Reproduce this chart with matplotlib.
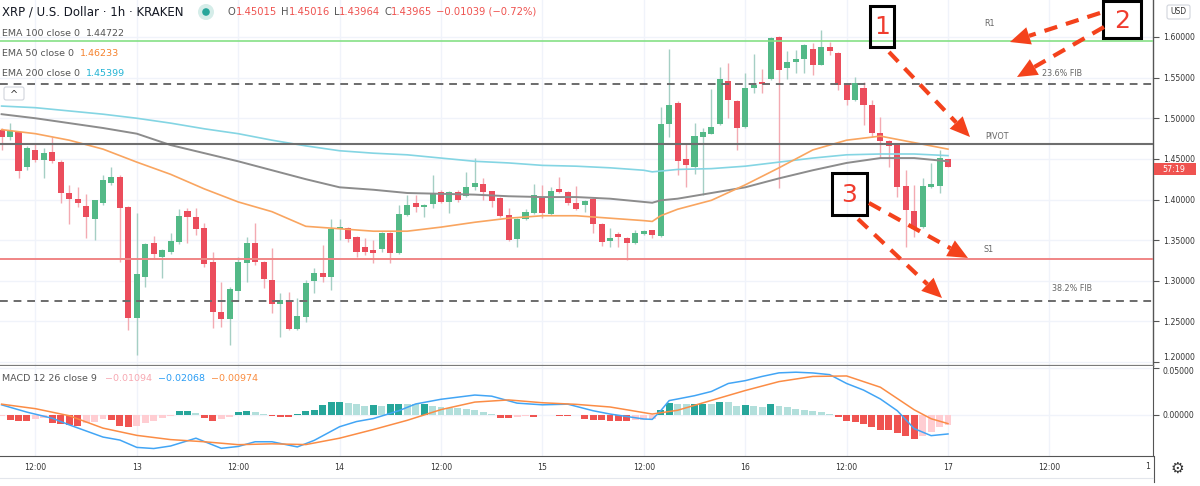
import numpy as np
import matplotlib.pyplot as plt
from matplotlib.patches import Rectangle, Polygon, FancyBboxPatch, Circle

# XRP/USD hourly candles (Kraken), from 12th 08:00 up to 17th 00:00
opens = [1.486, 1.477, 1.483, 1.440, 1.461, 1.448, 1.459, 1.446, 1.408, 1.401,
         1.392, 1.376, 1.396, 1.420, 1.428, 1.391, 1.254, 1.305, 1.346, 1.329,
         1.335, 1.348, 1.386, 1.378, 1.365, 1.323, 1.262, 1.253, 1.287, 1.322,
         1.346, 1.323, 1.301, 1.271, 1.275, 1.241, 1.255, 1.300, 1.310, 1.305,
         1.364, 1.365, 1.354, 1.342, 1.338, 1.339, 1.359, 1.334, 1.381, 1.396,
         1.391, 1.394, 1.409, 1.397, 1.409, 1.404, 1.415, 1.419, 1.410, 1.402,
         1.381, 1.351, 1.376, 1.383, 1.402, 1.382, 1.413, 1.409, 1.396, 1.393,
         1.401, 1.370, 1.349, 1.357, 1.353, 1.346, 1.357, 1.362, 1.355, 1.493,
         1.519, 1.450, 1.440, 1.477, 1.481, 1.493, 1.546, 1.521, 1.489, 1.537,
         1.545, 1.548, 1.600, 1.562, 1.569, 1.573, 1.585, 1.566, 1.588, 1.580,
         1.542, 1.522, 1.537, 1.516, 1.482, 1.472, 1.468, 1.417, 1.386, 1.366,
         1.415, 1.417, 1.45015]
highs = [1.488, 1.494, 1.484, 1.466, 1.470, 1.463, 1.477, 1.448, 1.418, 1.415,
         1.407, 1.400, 1.430, 1.440, 1.430, 1.392, 1.383, 1.347, 1.355, 1.339,
         1.359, 1.388, 1.390, 1.390, 1.371, 1.335, 1.298, 1.292, 1.329, 1.354,
         1.371, 1.324, 1.340, 1.285, 1.286, 1.279, 1.301, 1.316, 1.344, 1.376,
         1.376, 1.366, 1.355, 1.353, 1.350, 1.360, 1.360, 1.393, 1.406, 1.406,
         1.394, 1.430, 1.412, 1.410, 1.412, 1.434, 1.451, 1.426, 1.411, 1.403,
         1.390, 1.377, 1.388, 1.419, 1.418, 1.415, 1.428, 1.410, 1.417, 1.399,
         1.402, 1.371, 1.365, 1.360, 1.354, 1.362, 1.362, 1.363, 1.514, 1.585,
         1.521, 1.470, 1.494, 1.488, 1.536, 1.563, 1.568, 1.522, 1.556, 1.579,
         1.561, 1.600, 1.601, 1.583, 1.584, 1.591, 1.593, 1.609, 1.594, 1.581,
         1.543, 1.551, 1.545, 1.522, 1.502, 1.473, 1.469, 1.436, 1.418, 1.426,
         1.445, 1.461, 1.45016]
lows = [1.461, 1.473, 1.426, 1.436, 1.446, 1.426, 1.445, 1.396, 1.370, 1.391,
        1.353, 1.350, 1.393, 1.418, 1.323, 1.239, 1.209, 1.292, 1.327, 1.303,
        1.333, 1.345, 1.346, 1.356, 1.317, 1.242, 1.243, 1.221, 1.276, 1.298,
        1.319, 1.291, 1.260, 1.231, 1.239, 1.239, 1.249, 1.285, 1.298, 1.289,
        1.350, 1.348, 1.329, 1.332, 1.322, 1.335, 1.322, 1.333, 1.380, 1.385,
        1.378, 1.390, 1.396, 1.383, 1.397, 1.403, 1.412, 1.399, 1.391, 1.378,
        1.349, 1.342, 1.375, 1.382, 1.377, 1.381, 1.408, 1.393, 1.387, 1.385,
        1.359, 1.343, 1.342, 1.342, 1.326, 1.345, 1.356, 1.353, 1.354, 1.477,
        1.430, 1.415, 1.431, 1.406, 1.480, 1.492, 1.500, 1.461, 1.488, 1.531,
        1.531, 1.547, 1.414, 1.548, 1.556, 1.556, 1.553, 1.565, 1.578, 1.535,
        1.516, 1.521, 1.492, 1.477, 1.451, 1.440, 1.403, 1.342, 1.354, 1.365,
        1.414, 1.408, 1.43964]
closes = [1.477, 1.484, 1.435, 1.463, 1.448, 1.457, 1.447, 1.408, 1.401, 1.396,
          1.378, 1.399, 1.424, 1.428, 1.390, 1.254, 1.308, 1.345, 1.333, 1.338,
          1.349, 1.380, 1.378, 1.364, 1.321, 1.262, 1.253, 1.290, 1.323, 1.346,
          1.323, 1.302, 1.271, 1.276, 1.241, 1.257, 1.297, 1.310, 1.305, 1.364,
          1.366, 1.351, 1.335, 1.335, 1.334, 1.359, 1.334, 1.382, 1.393, 1.391,
          1.393, 1.408, 1.397, 1.409, 1.399, 1.415, 1.420, 1.409, 1.398, 1.380,
          1.350, 1.376, 1.385, 1.406, 1.383, 1.410, 1.409, 1.396, 1.388, 1.398,
          1.370, 1.348, 1.353, 1.354, 1.346, 1.359, 1.361, 1.356, 1.493, 1.516,
          1.447, 1.442, 1.478, 1.483, 1.489, 1.548, 1.522, 1.488, 1.537, 1.541,
          1.542, 1.599, 1.559, 1.569, 1.573, 1.590, 1.566, 1.588, 1.583, 1.541,
          1.522, 1.543, 1.516, 1.482, 1.472, 1.466, 1.415, 1.387, 1.364, 1.417,
          1.419, 1.451, 1.43965]

# moving averages at these candle numbers
ema_idx = [0, 4, 8, 12, 16, 20, 24, 28, 32, 36, 40, 44, 48, 52, 56, 60, 64, 68, 72, 76,
           77, 78, 80, 84, 88, 92, 96, 100, 104, 108, 112]
ema100 = [1.505, 1.500, 1.494, 1.488, 1.481, 1.467, 1.457, 1.447, 1.436, 1.425,
          1.415, 1.412, 1.408, 1.407, 1.406, 1.404, 1.403, 1.403, 1.401, 1.397,
          1.396, 1.399, 1.401, 1.408, 1.415, 1.426, 1.436, 1.445, 1.451, 1.451, 1.447]
ema50 = [1.486, 1.481, 1.473, 1.462, 1.446, 1.431, 1.413, 1.397, 1.385, 1.367,
         1.364, 1.361, 1.361, 1.366, 1.372, 1.377, 1.380, 1.380, 1.377, 1.374,
         1.373, 1.380, 1.388, 1.399, 1.418, 1.439, 1.461, 1.473, 1.478, 1.470, 1.462]
ema200 = [1.515, 1.513, 1.509, 1.505, 1.500, 1.494, 1.487, 1.481, 1.473, 1.466,
          1.460, 1.457, 1.455, 1.451, 1.447, 1.445, 1.442, 1.441, 1.439, 1.436,
          1.434, 1.435, 1.437, 1.438, 1.441, 1.446, 1.451, 1.455, 1.456, 1.456, 1.454]

# MACD 12 26 9
macd_idx = [0, 3, 6, 8, 10, 12, 14, 16, 18, 20, 23, 26, 28, 30, 32, 35, 37, 40, 42, 44,
            47, 49, 52, 56, 58, 61, 64, 67, 70, 72, 76, 77, 78, 79, 80, 82, 84, 86, 88, 90,
            92, 94, 96, 98, 100, 102, 104, 106, 108, 110, 112]
macd = [0.0103, 0.0025, -0.0040, -0.0110, -0.0175, -0.0240, -0.0272, -0.0350, -0.0362, -0.0335,
        -0.0252, -0.0360, -0.0340, -0.0290, -0.0290, -0.0345, -0.0275, -0.0130, -0.0075, -0.0043,
        0.0040, 0.0112, 0.0162, 0.0207, 0.0195, 0.0121, 0.0103, 0.0110, 0.0040, 0.0005,
        -0.0048, -0.0052, 0.0040, 0.0148, 0.0165, 0.0200, 0.0245, 0.0330, 0.0360, 0.0405,
        0.0443, 0.0450, 0.0442, 0.0424, 0.0330, 0.0260, 0.0165, 0.0040, -0.0150, -0.0225, -0.0207]
signal_idx = [0, 4, 8, 12, 16, 20, 24, 28, 32, 36, 40, 44, 48, 52, 56, 60, 64, 68, 72, 76,
              77, 80, 84, 88, 92, 96, 100, 104, 108, 110, 112]
signal = [0.0110, 0.0062, -0.0013, -0.0145, -0.0222, -0.0267, -0.0290, -0.0321, -0.0312, -0.0320,
          -0.0252, -0.0160, -0.0062, 0.0052, 0.0132, 0.0155, 0.0125, 0.0108, 0.0080, 0.0020,
          0.0005, 0.0045, 0.0150, 0.0255, 0.0350, 0.0405, 0.0410, 0.0290, 0.0050, -0.0045, -0.0097]
hist = [-0.0017, -0.0062, -0.0064, -0.0069, -0.0045, -0.0040, -0.0086, -0.0097, -0.0107, -0.0121,
        -0.0093, -0.0076, -0.0052, -0.0055, -0.0121, -0.0138, -0.0121, -0.0093, -0.0069, -0.0035,
        -0.0017, 0.0035, 0.0037, 0.0017, -0.0035, -0.0069, -0.0045, -0.0024, 0.0024, 0.0035,
        0.0024, 0.0003, -0.0017, -0.0024, -0.0025, 0.0007, 0.0035, 0.0052, 0.0097, 0.0128,
        0.0135, 0.0121, 0.0110, 0.0095, 0.0100, 0.0086, 0.0110, 0.0112, 0.0110, 0.0108,
        0.0112, 0.0093, 0.0079, 0.0070, 0.0068, 0.0059, 0.0045, 0.0028, 0.0005, -0.0035,
        -0.0036, -0.0028, -0.0017, -0.0028, -0.0010, -0.0007, -0.0017, -0.0018, -0.0010, -0.0045,
        -0.0055, -0.0062, -0.0069, -0.0070, -0.0071, -0.0059, -0.0055, -0.0045, 0.0045, 0.0121,
        0.0110, 0.0108, 0.0110, 0.0112, 0.0110, 0.0138, 0.0128, 0.0086, 0.0097, 0.0086,
        0.0085, 0.0110, 0.0086, 0.0076, 0.0059, 0.0052, 0.0035, 0.0028, 0.0010, -0.0024,
        -0.0069, -0.0079, -0.0104, -0.0138, -0.0162, -0.0165, -0.0197, -0.0231, -0.0259, -0.0231,
        -0.0183, -0.0138, -0.01094]

# levels drawn on the chart
r1 = 1.5945
fib236 = 1.5425
pivot = 1.468
s1 = 1.3268
fib382 = 1.2745

price_ticks = [1.20, 1.25, 1.30, 1.35, 1.40, 1.45, 1.50, 1.55, 1.60]
time_idx = [4, 16, 28, 40, 52, 64, 76, 88, 100, 112, 124]
time_labels = ['12:00', '13', '12:00', '14', '12:00', '15', '12:00', '16', '12:00', '17', '12:00']

GREEN = '#53b987'
RED = '#eb4d5c'
ARROW = '#f4421c'
GRID = '#f0f3fa'

W, H = 1200, 486
PLOT_R = 1153
fig = plt.figure(figsize=(12, 4.86), dpi=100)
ax = fig.add_axes([0, 1 - 366 / H, PLOT_R / W, 366 / H])
mx = fig.add_axes([0, 1 - 456 / H, PLOT_R / W, 90 / H], sharex=ax)
ov = fig.add_axes([0, 0, 1, 1], zorder=20)
ov.set_xlim(0, W)
ov.set_ylim(H, 0)
ov.axis('off')
ov.patch.set_alpha(0)

# candles
x = np.arange(len(closes))
o, hi, lo, c = map(np.array, (opens, highs, lows, closes))
up = c >= o
ax.vlines(x[up], lo[up], hi[up], color='#a5cfc4', lw=1, zorder=2)
ax.vlines(x[~up], lo[~up], hi[~up], color='#f3aab2', lw=1, zorder=2)
body = np.maximum(np.abs(c - o), 0.0009)
ax.bar(x, body, bottom=np.minimum(o, c), width=0.72,
       color=np.where(up, GREEN, RED), zorder=3)

ax.plot(ema_idx, ema200, color='#84d5e3', lw=1.2, zorder=4)
ax.plot(ema_idx, ema100, color='#8c8c8c', lw=1.4, zorder=4)
ax.plot(ema_idx, ema50, color='#f9a560', lw=1.2, zorder=4)

ax.axhline(r1, color='#86e086', lw=1.2, zorder=5)
ax.axhline(fib236, color='#6b6b6b', lw=1.4, ls=(0, (4, 3)), zorder=5)
ax.axhline(pivot, color='#6e6e6e', lw=1.5, zorder=5)
ax.axhline(s1, color='#f08585', lw=1.4, zorder=5)
ax.axhline(fib382, color='#6b6b6b', lw=1.4, ls=(0, (4, 3)), zorder=5)

ax.set_xlim((0 - 1.6) / 8.45, (PLOT_R - 1.6) / 8.45)
ax.set_ylim(1.2 - 4 / 812.5, 1.2 + 362 / 812.5)
ax.set_xticks(time_idx)
ax.set_yticks(price_ticks)
ax.set_yticklabels([f'{v:.5f}' for v in price_ticks])
ax.yaxis.tick_right()
ax.tick_params(axis='x', length=0, labelbottom=False)
ax.tick_params(axis='y', length=4, width=0.8, color='#555555', labelsize=5.6,
               labelcolor='#333333', pad=3)
ax.get_yticklabels()[0].set_va('bottom')
ax.grid(color=GRID, lw=1)
ax.set_axisbelow(True)
for s in ('top', 'left'):
    ax.spines[s].set_visible(False)
ax.spines['right'].set_color('#555555')
ax.spines['right'].set_linewidth(1)
ax.spines['bottom'].set_color('#7a7a7a')
ax.spines['bottom'].set_linewidth(1.6)

# MACD pane
hist_cols = []
for i, v in enumerate(hist):
    prev = hist[i - 1] if i > 0 else v
    if v >= 0:
        hist_cols.append('#26a69a' if v > prev else '#b2dfdb')
    else:
        hist_cols.append('#ef5350' if v < prev else '#ffcdd2')
mx.bar(x, hist, width=0.82, color=hist_cols, zorder=2)
mx.plot(macd_idx, macd, color='#42a5f5', lw=1.1, zorder=3)
mx.plot(signal_idx, signal, color='#fb8c45', lw=1.1, zorder=3)
mx.set_ylim(-(456 - 414.5) / 940, (414.5 - 366) / 940)
mx.set_yticks([0.0, 0.05])
mx.set_yticklabels(['0.00000', '0.05000'])
mx.yaxis.tick_right()
mx.get_yticklabels()[1].set_va('top')
mx.set_xticks(time_idx)
mx.set_xticklabels(time_labels)
mx.tick_params(axis='x', length=0, labelsize=5.6, labelcolor='#333333', pad=5)
mx.tick_params(axis='y', length=4, width=0.8, color='#555555', labelsize=5.6,
               labelcolor='#333333', pad=3)
mx.grid(color=GRID, lw=1)
mx.set_axisbelow(True)
for s in ('top', 'left'):
    mx.spines[s].set_visible(False)
mx.spines['right'].set_color('#555555')
mx.spines['bottom'].set_color('#555555')

# bottom strip
ov.plot([PLOT_R + 0.5, PLOT_R + 0.5], [456, 482], color='#555555', lw=0.8)
ov.plot([0, PLOT_R], [478, 478], color='#e3e6ec', lw=0.8)
ov.text(1148, 466, '1', fontsize=5.6, color='#333333', ha='center', va='center')
ov.text(1177, 468, '\u2699', fontsize=11, color='#333333', ha='center', va='center')

renderer = fig.canvas.get_renderer()


def seq_text(x0, y0, parts, size):
    xp = x0
    for s, col, gap in parts:
        t = ov.text(xp, y0, s, color=col, fontsize=size, ha='left', va='center')
        xp += t.get_window_extent(renderer).width + gap


seq_text(2, 12, [('XRP / U.S. Dollar \u00b7 1h \u00b7 KRAKEN', '#131722', 0)], 8.5)
ov.add_patch(Circle((206, 12), 8, color='#d5ede9', lw=0))
ov.add_patch(Circle((206, 12), 3.8, color='#26a69a', lw=0))
TR = '#ef5350'
seq_text(228, 12, [('O', '#555555', 0), ('1.45015', TR, 4), ('H', '#555555', 0), ('1.45016', TR, 4),
                   ('L', '#555555', 0), ('1.43964', TR, 4), ('C', '#555555', 0), ('1.43965', TR, 4),
                   ('\u22120.01039 (\u22120.72%)', TR, 0)], 7.2)
seq_text(2, 33, [('EMA 100 close 0', '#555555', 6), ('1.44722', '#555555', 0)], 6.8)
seq_text(2, 53, [('EMA 50 close 0', '#555555', 6), ('1.46233', '#f5812c', 0)], 6.8)
seq_text(2, 73, [('EMA 200 close 0', '#555555', 6), ('1.45399', '#22b3d4', 0)], 6.8)
seq_text(2, 378, [('MACD 12 26 close 9', '#555555', 8), ('\u22120.01094', '#f7a8b1', 6),
                  ('\u22120.02068', '#2a9df4', 6), ('\u22120.00974', '#f98b3e', 0)], 6.8)
ov.add_patch(FancyBboxPatch((4, 87), 20, 13, boxstyle='round,pad=0,rounding_size=2',
                            ec='#d1d4dc', fc='white', lw=0.8))
ov.text(14, 95, '^', fontsize=7, color='#333333', ha='center', va='center')

# level names
for tx, ty, s in [(984, 23, 'R1'), (1042, 73, '23.6% FIB'), (985, 136, 'PIVOT'),
                  (984, 249, 'S1'), (1052, 288, '38.2% FIB')]:
    ov.text(tx, ty, s, fontsize=5.8, color='#666666', ha='left', va='center')

# right axis extras
ov.add_patch(FancyBboxPatch((1167, 5), 23, 14, boxstyle='round,pad=0,rounding_size=2',
                            ec='#d1d4dc', fc='white', lw=0.8))
ov.text(1178.5, 12, 'USD', fontsize=5.5, color='#333333', ha='center', va='center')
ov.add_patch(Rectangle((PLOT_R + 1, 163), 42, 12, color='#ef5350', lw=0))
ov.text(1174, 169, '57:19', fontsize=5.8, color='white', ha='center', va='center')


def dashed_arrow(x0, y0, x1, y1):
    d = np.array([x1 - x0, y1 - y0], dtype=float)
    u = d / np.hypot(*d)
    n = np.array([-u[1], u[0]])
    tip = np.array([x1, y1], dtype=float)
    base = tip - u * 20
    ov.plot([x0, base[0]], [y0, base[1]], color=ARROW, lw=3.0,
            ls=(0, (3.2, 2.2)), solid_capstyle='butt', dash_capstyle='butt')
    ov.add_patch(Polygon([tip, base + n * 9, base - n * 9], closed=True, color=ARROW, lw=0))


def num_box(x0, y0, w, h, s):
    ov.add_patch(Rectangle((x0, y0), w, h, fill=False, ec='black', lw=2.2))
    ov.text(x0 + w / 2, y0 + h / 2 + 1, s, fontsize=18, color='#f03c2e',
            ha='center', va='center')


num_box(870, 6, 24, 41, '1')
num_box(1103, 1, 38, 37, '2')
num_box(832, 173, 35, 42, '3')
dashed_arrow(889, 52, 970, 137)
dashed_arrow(1100, 13, 1010, 42)
dashed_arrow(1104, 27, 1017, 77)
dashed_arrow(869, 203, 968, 258)
dashed_arrow(858, 219, 942, 298)

fig.savefig('out.png', dpi=100)
